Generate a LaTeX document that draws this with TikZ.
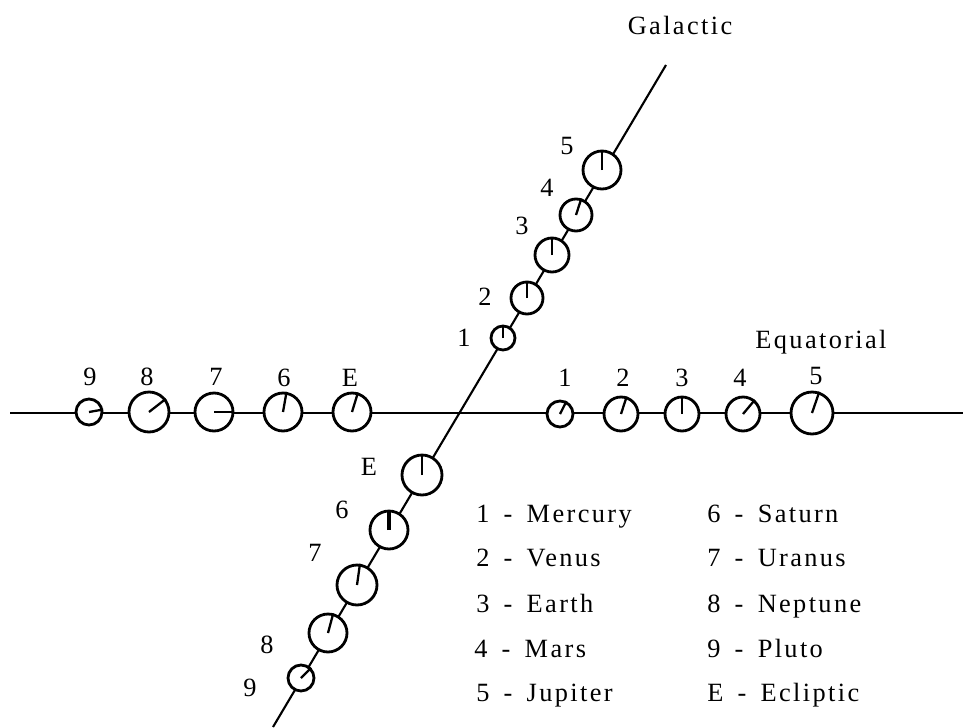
\documentclass[tikz,border=0pt]{standalone}
\usepackage{fontspec}
\setmainfont{Liberation Serif}[LetterSpace=9]
\newcommand{\dsh}{\hspace{3pt} - \hspace{3pt}}
\begin{document}
\begin{tikzpicture}[x=0.02cm,y=-0.02cm,
  pl/.style={circle,draw,fill=white,line width=1.6pt,inner sep=0pt},
  tk/.style={line width=1.3pt},
  ln/.style={line width=1.2pt},
  lab/.style={font=\fontsize{15}{18}\selectfont,inner sep=0pt},
  leg/.style={font=\fontsize{15}{18}\selectfont,inner sep=0pt,anchor=base west}]
\useasboundingbox (0,0) rectangle (963,727);
% axes
\coordinate (hl) at (10,413);
\coordinate (hr) at (963,413);
\coordinate (gb) at (273,727);
\coordinate (gt) at (666,65);
\draw[ln] (hl) -- (hr);
\draw[ln] (gb) -- (gt);
% equatorial planets
\node[pl,minimum size=0.52cm] (E9) at (89,412) {};
\node[pl,minimum size=0.80cm] (E8) at (149,412) {};
\node[pl,minimum size=0.76cm] (E7) at (214,412) {};
\node[pl,minimum size=0.76cm] (E6) at (283,412) {};
\node[pl,minimum size=0.76cm] (EE) at (352,412) {};
\node[pl,minimum size=0.52cm] (E1) at (560,414) {};
\node[pl,minimum size=0.68cm] (E2) at (621,414) {};
\node[pl,minimum size=0.68cm] (E3) at (682,414) {};
\node[pl,minimum size=0.68cm] (E4) at (743,414) {};
\node[pl,minimum size=0.84cm] (E5) at (812,413) {};
\draw[tk] (E9.center) -- (E9.10);
\draw[tk] (E8.center) -- (E8.38);
\draw[tk] (E7.center) -- (E7.0);
\draw[tk] (E6.center) -- (E6.80);
\draw[tk] (EE.center) -- (EE.73);
\draw[tk] (E1.center) -- (E1.63);
\draw[tk] (E2.center) -- (E2.72);
\draw[tk] (E3.center) -- (E3.90);
\draw[tk] (E4.center) -- (E4.50);
\draw[tk] (E5.center) -- (E5.71);
% galactic planets
\node[pl,minimum size=0.48cm] (G1) at (503,338) {};
\node[pl,minimum size=0.64cm] (G2) at (527,298) {};
\node[pl,minimum size=0.68cm] (G3) at (552,255) {};
\node[pl,minimum size=0.64cm] (G4) at (576,215) {};
\node[pl,minimum size=0.76cm] (G5) at (602,170) {};
\node[pl,minimum size=0.80cm] (GE) at (422,475) {};
\node[pl,minimum size=0.76cm] (G6) at (389,530) {};
\node[pl,minimum size=0.80cm] (G7) at (357,585) {};
\node[pl,minimum size=0.76cm] (G8) at (328,633) {};
\node[pl,minimum size=0.52cm] (G9) at (301,678) {};
\draw[tk] (G1.center) -- (G1.90);
\draw[tk] (G2.center) -- (G2.90);
\draw[tk] (G3.center) -- (G3.90);
\draw[tk] (G4.center) -- (G4.72);
\draw[tk] (G5.center) -- (G5.90);
\draw[tk] (GE.center) -- (GE.90);
\draw[line width=1.9pt] (G6.center) -- (G6.90);
\draw[tk] (G7.center) -- (G7.82);
\draw[tk] (G8.center) -- (G8.75);
\draw[tk] (G9.center) -- (G9.45);
% equatorial labels
\node[lab] (lE9) at (90,377) {9};
\node[lab] (lE8) at (147,377) {8};
\node[lab] (lE7) at (216,377) {7};
\node[lab] (lE6) at (284,378) {6};
\node[lab] (lEE) at (350,378) {E};
\node[lab] (lE1) at (565,378) {1};
\node[lab] (lE2) at (623,378) {2};
\node[lab] (lE3) at (682,378) {3};
\node[lab] (lE4) at (740,378) {4};
\node[lab] (lE5) at (816,376) {5};
% galactic labels
\node[lab] (lG5) at (567,146) {5};
\node[lab] (lG4) at (547,188) {4};
\node[lab] (lG3) at (522,226) {3};
\node[lab] (lG2) at (485,297) {2};
\node[lab] (lG1) at (464,338) {1};
\node[lab] (lGE) at (369,467) {E};
\node[lab] (lG6) at (342,510) {6};
\node[lab] (lG7) at (315,553) {7};
\node[lab] (lG8) at (267,645) {8};
\node[lab] (lG9) at (250,688) {9};
% titles
\node[lab] (tgal) at (680,25) {Galactic};
\node[lab] (tequ) at (821,342) {Equatorial};
% legend
\node[leg] (k1) at (476,522) {1\dsh Mercury};
\node[leg] (k2) at (476,566) {2\dsh Venus};
\node[leg] (k3) at (476,612) {3\dsh Earth};
\node[leg] (k4) at (474,657) {4\dsh Mars};
\node[leg] (k5) at (476,701) {5\dsh Jupiter};
\node[leg] (k6) at (707,522) {6\dsh Saturn};
\node[leg] (k7) at (707,566) {7\dsh Uranus};
\node[leg] (k8) at (707,612) {8\dsh Neptune};
\node[leg] (k9) at (707,657) {9\dsh Pluto};
\node[leg] (kE) at (707,701) {E\dsh Ecliptic};
\end{tikzpicture}
\end{document}
